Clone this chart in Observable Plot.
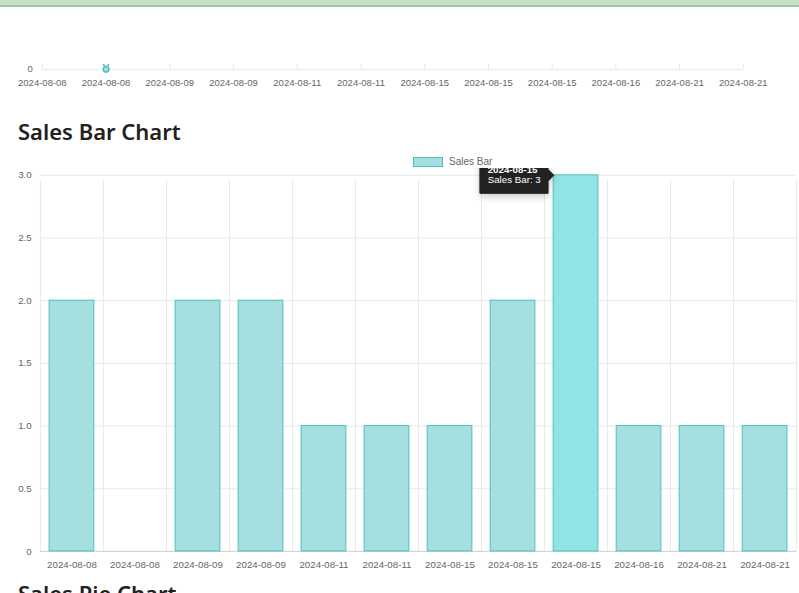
<!DOCTYPE html>
<html><head><meta charset="utf-8">
<script src="https://cdn.jsdelivr.net/npm/d3@7"></script>
<script src="https://cdn.jsdelivr.net/npm/@observablehq/plot@0.6"></script>
<style>
body{margin:0;width:799px;height:593px;overflow:hidden;position:relative;background:#fff;font-family:"Noto Sans",sans-serif}
#band{position:absolute;left:0;top:0;width:799px;height:5px;background:#c5e0c5;border-bottom:2px solid #a3c6a3;z-index:5}
#top{position:absolute;left:0;top:64px;width:799px;height:40px;overflow:hidden}
#top svg{position:absolute;left:0;top:-193px}
h2{position:absolute;margin:0;left:18px;font-weight:600;font-size:22px;color:#222}
#legend{position:absolute;top:156px;left:413px;font:10px "Liberation Sans",Arial;color:#666;display:flex;align-items:center}
#legend span{display:inline-block;width:28px;height:8px;background:#a6dfe0;border:1px solid #4bc0c0;margin-right:6px}
#bar{position:absolute;left:0;top:168px}
svg text{font-family:"Liberation Sans",Arial}
</style></head><body>
<div id="band"></div>
<div id="top"></div>
<h2 style="top:116px">Sales Bar Chart</h2>
<div id="legend"><span></span>Sales Bar</div>
<div id="bar"></div>
<h2 style="top:578px">Sales Pie Chart</h2>
<script>
const dates = ["2024-08-08","2024-08-08","2024-08-09","2024-08-09","2024-08-11","2024-08-11","2024-08-15","2024-08-15","2024-08-15","2024-08-16","2024-08-21","2024-08-21"]
const sales = [2,0,2,2,1,1,1,2,3,1,1,1]
const hovered = 8
const data = dates.map((d, i) => ({i, d, v: sales[i]}))
const idx = d3.range(dates.length)
const yTicks = [0, 0.5, 1, 1.5, 2, 2.5, 3]

// top line chart (only bottom strip visible)
const topChart = Plot.plot({
  width: 840, height: 230, marginLeft: 44, marginRight: 59, marginTop: 8, marginBottom: 22,
  x: {type: "linear", domain: [0, 11], axis: null},
  y: {type: "linear", domain: [0, 3], axis: null},
  style: {fontSize: "10px", color: "#666"},
  marks: [
    Plot.ruleX(idx, {x: d => d, y1: 0, y2: 3, insetBottom: -4, stroke: "#e5e5e5", strokeOpacity: 1}),
    Plot.ruleY(yTicks, {x1: 0, x2: 11, stroke: "#e5e5e5", strokeOpacity: 1}),
    Plot.text(data, {x: "i", y: () => 0, text: "d", dy: 14, fill: "#666"}),
    Plot.text([0], {x: () => 0, y: () => 0, text: () => "0", dx: -10, textAnchor: "end", fill: "#666"}),
    Plot.line(data, {x: "i", y: "v", stroke: "#4bc0c0", strokeWidth: 1.5}),
    Plot.dot(data, {x: "i", y: "v", r: 3, stroke: "#4bc0c0", fill: "#a6dfe0"})
  ]
})
document.getElementById("top").append(topChart)

const barChart = Plot.plot({
  width: 820, height: 418, marginLeft: 41, marginRight: 3, marginTop: 7, marginBottom: 25,
  x: {type: "linear", domain: [0, 12], axis: null},
  y: {type: "linear", domain: [0, 3], axis: null},
  style: {fontSize: "10px", color: "#666"},
  marks: [
    Plot.ruleX(d3.range(dates.length + 1), {x: d => d, y1: 0, y2: 3, insetBottom: -5, stroke: "#e8e8e8", strokeOpacity: 1}),
    Plot.ruleY(yTicks, {x1: 0, x2: 12, stroke: "#e8e8e8", strokeOpacity: 1}),
    Plot.ruleY([0], {x1: 0, x2: 12, stroke: "#d0d0d0"}),
    Plot.text(yTicks, {x: () => 0, y: d => d, text: d => d === 0 ? "0" : d3.format(".1f")(d), dx: -9, textAnchor: "end", fill: "#666"}),
    Plot.text(data, {x: d => d.i + 0.5, y: () => 0, text: "d", dy: 14, fill: "#666"}),
    Plot.rectY(data, {x1: d => d.i + 0.145, x2: d => d.i + 0.855, y1: () => 0, y2: "v",
      fill: d => d.i === hovered ? "#90e4e6" : "#a6dfe0", stroke: "#4bc0c0", strokeWidth: 1}),
    Plot.tip([data[hovered]], {x: d => d.i + 0.145, y: "v", anchor: "right",
      title: d => `${d.d}\nSales Bar: ${d.v}`, fill: "#222", stroke: "#222", fontSize: 10})
  ]
})
barChart.querySelectorAll('g[aria-label="tip"] text, g[aria-label="tip"] tspan').forEach(t => t.setAttribute("fill", "#fff"))
barChart.querySelectorAll('g[aria-label="tip"] tspan').forEach((t, k) => { if (k === 0) t.setAttribute("font-weight", "bold") })
document.getElementById("bar").append(barChart)
</script>
</body></html>
